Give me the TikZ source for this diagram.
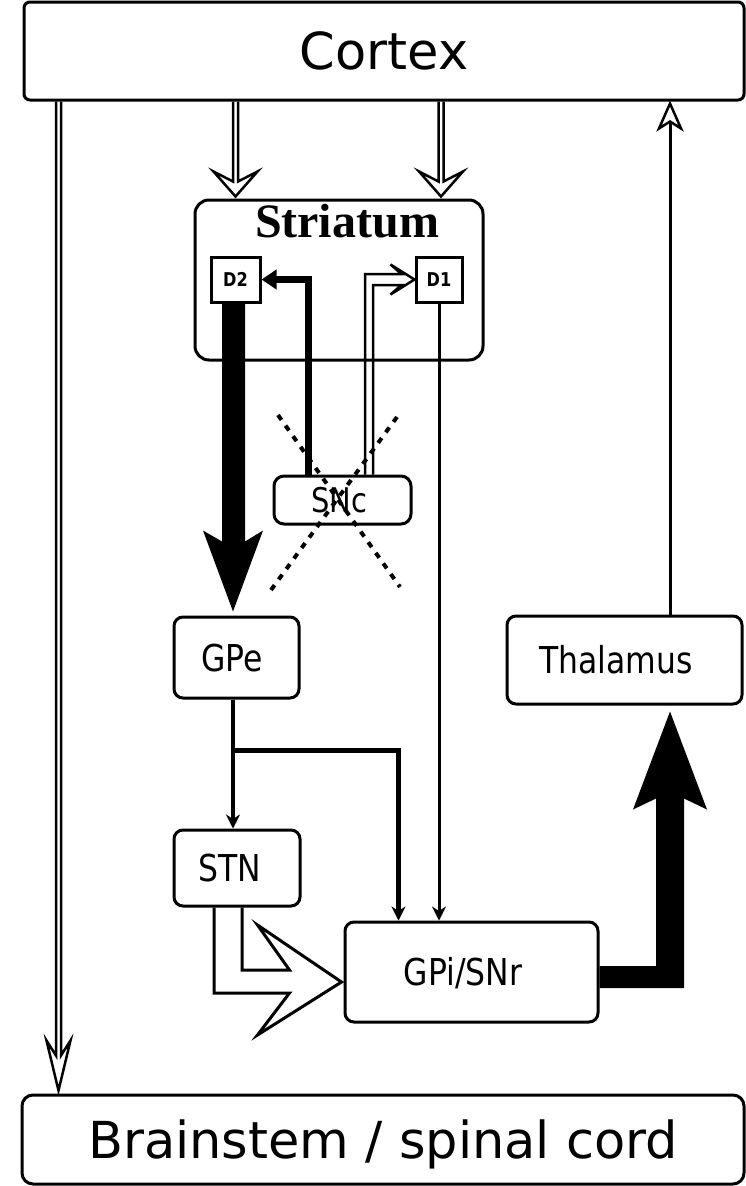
\documentclass[tikz,border=0pt]{standalone}
\usepackage{fontspec}
\setmainfont{DejaVu Sans}
\newfontfamily\pixfont[FakeStretch=0.85]{DejaVu Sans}
\newfontfamily\titlefont{Liberation Serif}
\usetikzlibrary{calc,arrows.meta}
% hollow downward arrow: #1 start, #2 tip, #3 half gap, #4 barb half width, #5 barb height, #6 junction height
\newcommand{\hollowdown}[6]{%
  \draw[hollow] let \p1=(#1), \p2=(#2) in
    (\x1-#3,\y1) -- (\x1-#3,\y2+#6) -- (\x2-#4,\y2+#5) -- (\x2,\y2)
    -- (\x2+#4,\y2+#5) -- (\x1+#3,\y2+#6) -- (\x1+#3,\y1);}
\begin{document}
\begin{tikzpicture}[x=1pt,y=-1pt,
  box/.style={draw, line width=3pt, rounded corners=9pt, inner sep=0pt},
  sqbox/.style={draw, line width=3pt, inner sep=0pt},
  bigtxt/.style={font=\fontsize{51}{60}\selectfont, text height=37pt, text depth=0pt},
  smalltxt/.style={font=\pixfont\fontsize{37}{44}\selectfont, text height=27pt, text depth=0pt},
  tinytxt/.style={font=\pixfont\bfseries\fontsize{19}{22}\selectfont},
  thinline/.style={line width=3pt},
  medline/.style={line width=4.5pt},
  hollow/.style={line width=2.5pt, line join=miter},
  xdash/.style={line width=4pt, dash pattern=on 6pt off 7pt},
]
\useasboundingbox[fill=white] (0,0) rectangle (746,1186);

% boxes
\node[box, rounded corners=6pt, minimum width=720pt, minimum height=98pt, bigtxt] (cortex) at (384,51) {Cortex};
\node[box, rounded corners=14pt, minimum width=288pt, minimum height=160pt] (striatum) at (339,280) {};
\node[font=\titlefont\bfseries\fontsize{48}{56}\selectfont, anchor=base] (striatumtitle) at (347,237) {Striatum};
\node[sqbox, minimum width=49pt, minimum height=45pt, tinytxt] (d2) at (235.5,279.5) {D2};
\node[sqbox, minimum width=46pt, minimum height=45pt, tinytxt] (d1) at (439,279.5) {D1};
\node[box, rounded corners=10pt, minimum width=137pt, minimum height=48pt, smalltxt, font=\pixfont\fontsize{34}{40}\selectfont, text height=25pt] (snc) at (342.5,500) {\hspace*{-6pt}SNc};
\node[box, minimum width=125pt, minimum height=81pt, smalltxt] (gpe) at (236.5,657.5) {\hspace*{-9pt}GPe};
\node[box, minimum width=235pt, minimum height=88pt, smalltxt] (thal) at (624.5,660) {\hspace*{-17pt}Thalamus};
\node[box, minimum width=126pt, minimum height=76pt, smalltxt] (stn) at (237,868) {\hspace*{-14pt}STN};
\node[box, minimum width=253pt, minimum height=100pt, smalltxt] (gpi) at (471.5,972) {\hspace*{-17pt}GPi/SNr};
\node[box, rounded corners=11pt, minimum width=722pt, minimum height=89pt, bigtxt] (brain) at (383,1139.5) {Brainstem / spinal cord};

% Cortex -> Brainstem (hollow)
\coordinate (lt) at ($(cortex.south west)+(36,0)$);
\coordinate (lb) at ($(brain.north west)+(38,-3)$);
\hollowdown{lt}{lb}{2.5pt}{12pt}{50pt}{35pt}

% Cortex -> Striatum (hollow)
\coordinate (ct1) at (cortex.south -| d2.center);
\coordinate (st1) at ($(striatum.north -| d2.center)+(0,-2)$);
\hollowdown{ct1}{st1}{2.5pt}{22pt}{25pt}{15pt}
\coordinate (ct2) at ($(cortex.south -| d1.center)+(2,0)$);
\coordinate (st2) at ($(striatum.north -| d1.center)+(2,-2)$);
\hollowdown{ct2}{st2}{2.5pt}{22pt}{25pt}{15pt}

% Thalamus -> Cortex
\coordinate (thout) at ($(thal.north)+(45.5,0)$);
\coordinate (cin) at (cortex.south -| thout);
\draw[thinline] (thout) -- ($(cin)+(0,20)$);
\draw[hollow, line join=miter] ($(cin)+(0,20)$) -- ($(cin)+(-11,27)$) -- ($(cin)+(0,2)$) -- ($(cin)+(11,27)$) -- cycle;

% D2 -> GPe (big filled)
\fill let \p1=($(d2.south)+(-2,0)$), \p2=($(gpe.north)+(-3.5,-4)$) in
  (\x1-11.5pt,\y1) -- (\x1-11.5pt,\y2+70pt) -- (\x2-30pt,\y2+81pt) -- (\x2,\y2)
  -- (\x2+30pt,\y2+81pt) -- (\x1+11.5pt,\y2+70pt) -- (\x1+11.5pt,\y1) -- cycle;

% GPi -> Thalamus (big filled)
\fill let \p1=($(gpi.east)+(0,5)$), \p2=($(thal.south)+(45.5,6)$) in
  (\x1,\y1+11pt) -- (\x2-14pt,\y1+11pt) -- (\x2-14pt,\y2-87pt) -- (\x2-37pt,\y2-98pt) -- (\x2,\y2)
  -- (\x2+37pt,\y2-98pt) -- (\x2+14pt,\y2-87pt) -- (\x2+14pt,\y1-11pt) -- (\x1,\y1-11pt) -- cycle;

% SNc -> D2 (thick)
\draw[line width=7pt, -{Triangle[length=15pt,width=19pt]}] ($(snc.north)+(-34.5,0)$) |- (d2.east);

% SNc -> D1 (hollow double)
\draw[hollow] let \p1=(snc.north), \p2=(d1.west) in
  (\x1+22.5pt,\y1) -- (\x1+22.5pt,\y2+5.5pt) -- (\x2-13pt,\y2+5.5pt) -- (\x2-24pt,\y2+15pt) -- (\x2,\y2)
  -- (\x2-24pt,\y2-15pt) -- (\x2-13pt,\y2-5.5pt) -- (\x1+30.5pt,\y2-5.5pt) -- (\x1+30.5pt,\y1);

% D1 -> GPi
\draw[thinline, -{Stealth[length=14pt,width=14pt]}] (d1.south) -- (d1.south |- gpi.north);

% GPe -> STN and GPe -> GPi
\coordinate (gpeout) at ($(gpe.south)+(-3.5,0)$);
\draw[medline, -{Stealth[length=14pt,width=14pt]}] (gpeout) -- (gpeout |- stn.north);
\draw[medline, -{Stealth[length=14pt,width=14pt]}] ($(gpeout)+(0,51)$) -| ($(gpi.north west)+(55,0)$);

% STN -> GPi (hollow big)
\draw[thinline, line join=miter] let \p1=(stn.south), \p2=($(gpi.west)+(-2,10)$) in
  (\x1-23pt,\y1) -- (\x1-23pt,\y2-11pt) -- (\x2-52pt,\y2-11pt) -- (\x2-84pt,\y2-53pt) -- (\x2,\y2)
  -- (\x2-84pt,\y2+57pt) -- (\x2-52pt,\y2+12pt) -- (\x1+5pt,\y2+12pt) -- (\x1+5pt,\y1);

% dashed X through SNc
\draw[xdash] ($(snc.center)+(-64.5,-85)$) -- ($(snc.center)+(57.5,87)$);
\draw[xdash] ($(snc.center)+(54.5,-83)$) -- ($(snc.center)+(-71.5,90)$);
\end{tikzpicture}
\end{document}
